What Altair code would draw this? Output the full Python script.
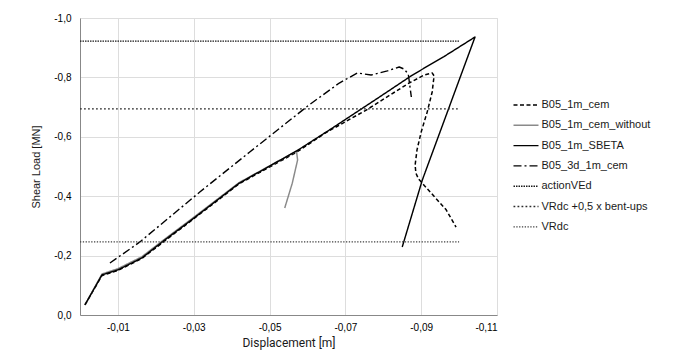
import altair as alt
import pandas as pd

# ---- data ----
series_names = ["B05_1m_cem", "B05_1m_cem_without", "B05_1m_SBETA", "B05_3d_1m_cem",
                "actionVEd", "VRdc +0,5 x bent-ups", "VRdc"]

cem_d = [-0.0013, -0.0058, -0.0100, -0.0163, -0.0224, -0.0297, -0.0420, -0.0571, -0.0650,
         -0.0755, -0.0868, -0.0908, -0.0929, -0.0934, -0.0929, -0.0916, -0.0900, -0.0889,
         -0.0884, -0.0886, -0.0893, -0.0966, -0.0992]
cem_L = [-0.034, -0.133, -0.150, -0.190, -0.250, -0.321, -0.442, -0.548, -0.615,
         -0.690, -0.781, -0.808, -0.815, -0.805, -0.751, -0.684, -0.616, -0.556,
         -0.505, -0.478, -0.458, -0.354, -0.296]

without_d = [-0.0013, -0.0058, -0.0100, -0.0163, -0.0224, -0.0297, -0.0420, -0.0571,
             -0.0574, -0.0560, -0.0540]
without_L = [-0.034, -0.138, -0.156, -0.196, -0.256, -0.326, -0.446, -0.552,
             -0.522, -0.444, -0.360]

sbeta_d = [-0.0013, -0.0058, -0.0100, -0.0163, -0.0224, -0.0297, -0.0420, -0.0571,
           -0.0658, -0.0790, -0.0877, -0.0960, -0.1042, -0.0903, -0.0850]
sbeta_L = [-0.034, -0.135, -0.152, -0.192, -0.253, -0.323, -0.444, -0.552,
           -0.623, -0.734, -0.808, -0.870, -0.936, -0.4545, -0.229]

d3_d = [-0.0079, -0.0158, -0.0316, -0.0447, -0.0605, -0.0684, -0.0732, -0.0768,
        -0.0811, -0.0842, -0.0855, -0.0866, -0.0874]
d3_L = [-0.175, -0.246, -0.414, -0.548, -0.708, -0.781, -0.815, -0.808,
        -0.822, -0.835, -0.828, -0.811, -0.734]

ref_d = [0.0, -0.100]
action_L = [-0.922, -0.922]
vrdc_bent_L = [-0.694, -0.694]
vrdc_L = [-0.246, -0.246]

x_ticks = [-0.01, -0.03, -0.05, -0.07, -0.09, -0.11]
y_ticks = [0.0, -0.2, -0.4, -0.6, -0.8, -1.0]

# ---- table ----
rows = []
for name, ds, ls in [
    (series_names[0], cem_d, cem_L),
    (series_names[1], without_d, without_L),
    (series_names[2], sbeta_d, sbeta_L),
    (series_names[3], d3_d, d3_L),
    (series_names[4], ref_d, action_L),
    (series_names[5], ref_d, vrdc_bent_L),
    (series_names[6], ref_d, vrdc_L),
]:
    for i, (d, l) in enumerate(zip(ds, ls)):
        rows.append({"series": name, "d": d, "L": l, "i": i})
df = pd.DataFrame(rows)

colors = ["#000000", "#8a8a8a", "#000000", "#000000", "#1a1a1a", "#2b2b2b", "#404040"]
dashes = [[4, 2.5], [1, 0], [1, 0], [8, 3, 2, 3], [1.5, 1], [1.8, 2.2], [1.3, 1.5]]
widths = [1.5, 1.3, 2.0, 2.2, 2.0, 2.0, 1.3]

font = "Liberation Sans"


def make_legend():
    return alt.Legend(title=None, orient="none", legendX=435, legendY=76,
                      symbolType="M-1.25,0H1.25", symbolSize=400,
                      labelFont=font, labelFontSize=11, labelColor="#1a1a1a",
                      labelOffset=4.5, rowPadding=4.3, labelLimit=200)


chart = alt.Chart(df).mark_line(strokeCap="butt", strokeJoin="round").encode(
    x=alt.X("d:Q",
            scale=alt.Scale(domain=[-0.11, 0.0], reverse=True, nice=False, zero=False),
            axis=alt.Axis(values=x_ticks, title="Displacement [m]",
                          labelExpr="replace(replace(format(datum.value, '.2f'), '.', ','), '\u2212', '-')",
                          ticks=False, tickSize=0, labelPadding=7, titlePadding=5,
                          titleFont="Liberation Sans Narrow, Roboto", titleFontSize=12,
                          titleFontWeight="normal", titleColor="#1a1a1a")),
    y=alt.Y("L:Q",
            scale=alt.Scale(domain=[-1.0, 0.0], reverse=True, nice=False, zero=False),
            axis=alt.Axis(values=y_ticks, title="Shear Load [MN]",
                          labelExpr="replace(replace(format(datum.value, '.1f'), '.', ','), '\u2212', '-')",
                          ticks=False, tickSize=0, labelPadding=9, titlePadding=12,
                          titleFont=font, titleFontSize=11, titleFontWeight="normal",
                          titleColor="#1a1a1a")),
    color=alt.Color("series:N", scale=alt.Scale(domain=series_names, range=colors),
                    legend=make_legend()),
    strokeDash=alt.StrokeDash("series:N", scale=alt.Scale(domain=series_names, range=dashes),
                              legend=make_legend()),
    strokeWidth=alt.StrokeWidth("series:N", scale=alt.Scale(domain=series_names, range=widths),
                                legend=make_legend()),
    order="i:Q",
).properties(
    width=417, height=297,
    autosize=alt.AutoSizeParams(type="none"),
    padding={"left": 72, "top": 10, "right": 190, "bottom": 38},
).configure_view(stroke=None).configure_axis(
    labelFont=font, labelFontSize=12, labelColor="#404040",
    gridColor="#d9d9d9", gridWidth=1, domainColor="#8c8c8c", domainWidth=1,
).configure(background="white")

chart.save("out.html", embed_options={"renderer": "svg", "actions": False})
